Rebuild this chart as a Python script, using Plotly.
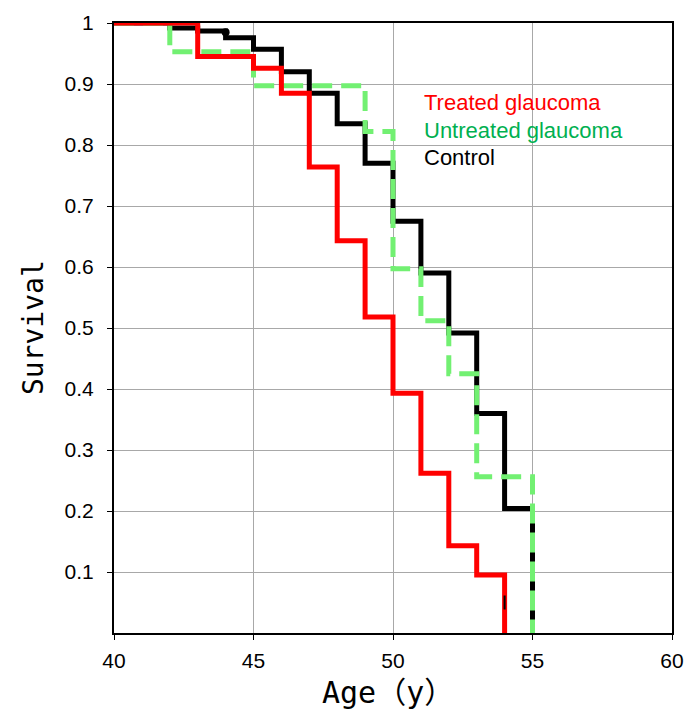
import plotly.graph_objects as go

# Kaplan-Meier style step data (age in years, survival fraction)
treated_age = [40, 43, 45, 46, 47, 48, 49, 50, 51, 52, 53, 54, 54]
treated_surv = [1.0, 0.945, 0.926, 0.885, 0.764, 0.643, 0.518, 0.393, 0.262, 0.143, 0.095, 0.0, 0.0]

untreated_age = [40, 42, 45, 49, 50, 51, 52, 53, 55, 55]
untreated_surv = [1.0, 0.953, 0.897, 0.822, 0.597, 0.512, 0.425, 0.256, 0.0, 0.0]

control_age = [40, 42, 43, 44, 45, 46, 47, 48, 49, 50, 51, 52, 53, 54, 55, 55]
control_surv = [1.0, 0.992, 0.987, 0.976, 0.957, 0.92, 0.885, 0.835, 0.77, 0.675, 0.59, 0.492, 0.36, 0.204, 0.015, 0.015]

censor_age = [44, 54]
censor_surv = [0.985, 0.05]

legend_labels = ["Treated glaucoma", "Untreated glaucoma", "Control"]
legend_colors = ["#ff0000", "#00b050", "#000000"]

x_ticks = [40, 45, 50, 55, 60]
y_ticks = [0.1, 0.2, 0.3, 0.4, 0.5, 0.6, 0.7, 0.8, 0.9, 1.0]
y_tick_text = ["0.1", "0.2", "0.3", "0.4", "0.5", "0.6", "0.7", "0.8", "0.9", "1"]

x_title = "Age（y）"
y_title = "Survival"

fig = go.Figure()
fig.add_trace(go.Scatter(x=control_age, y=control_surv, mode="lines", line_shape="hv",
                         line=dict(color="#000000", width=5), name="Control", showlegend=False))
fig.add_trace(go.Scatter(x=untreated_age, y=untreated_surv, mode="lines", line_shape="hv",
                         line=dict(color="#72f072", width=5, dash="20px,9px"),
                         name="Untreated glaucoma", showlegend=False))
fig.add_trace(go.Scatter(x=treated_age, y=treated_surv, mode="lines", line_shape="hv",
                         line=dict(color="#ff0000", width=5), name="Treated glaucoma", showlegend=False))
fig.add_trace(go.Scatter(x=censor_age[:1], y=censor_surv[:1], mode="markers",
                         marker=dict(color="black", size=8, symbol="circle"), showlegend=False))
fig.add_trace(go.Scatter(x=censor_age[1:], y=censor_surv[1:], mode="markers",
                         marker=dict(color="black", size=10, symbol="line-ns",
                                     line=dict(color="black", width=2)), showlegend=False))

for i, (lab, col) in enumerate(zip(legend_labels, legend_colors)):
    fig.add_annotation(x=0.552, y=0.869 - i * 0.045, xref="paper", yref="paper",
                       text=lab, showarrow=False, xanchor="left", yanchor="middle",
                       font=dict(family="Liberation Sans, Arial", size=22, color=col))

# axis titles (placed as annotations to match the reference position)
fig.add_annotation(x=0.491, y=-0.098, xref="paper", yref="paper", text=x_title,
                   showarrow=False, xanchor="center", yanchor="middle",
                   font=dict(family="DejaVu Sans Mono, Noto Sans CJK JP", size=30, color="black"))
fig.add_annotation(x=-0.145, y=0.5, xref="paper", yref="paper", text=y_title, textangle=-90,
                   showarrow=False, xanchor="center", yanchor="middle",
                   font=dict(family="DejaVu Sans Mono, Noto Sans CJK JP", size=28, color="black"))

fig.update_layout(
    width=684, height=711,
    margin=dict(l=114, r=12, t=23, b=78, autoexpand=False),
    paper_bgcolor="white", plot_bgcolor="white",
    font=dict(family="Liberation Sans, Arial", color="black"),
    xaxis=dict(range=[40, 60], tickvals=x_ticks, showgrid=True, gridcolor="#a8a8a8", gridwidth=1,
               showline=True, linecolor="black", linewidth=2, mirror=True, automargin=False,
               ticks="outside", ticklen=5, tickcolor="black", zeroline=False,
               ticklabelstandoff=3, ticklabeloverflow="allow",
               tickfont=dict(size=21, family="Liberation Sans, Arial")),
    yaxis=dict(range=[0, 1], tickvals=y_ticks, ticktext=y_tick_text, showgrid=True,
               gridcolor="#a8a8a8", gridwidth=1, automargin=False,
               showline=True, linecolor="black", linewidth=2, mirror=True,
               ticks="outside", ticklen=5, tickcolor="black", zeroline=False,
               ticklabelstandoff=9,
               tickfont=dict(size=21, family="Liberation Sans, Arial")),
)

fig.write_html("out.html", config={"displayModeBar": False},
               post_script="document.body.style.margin='0px';")
